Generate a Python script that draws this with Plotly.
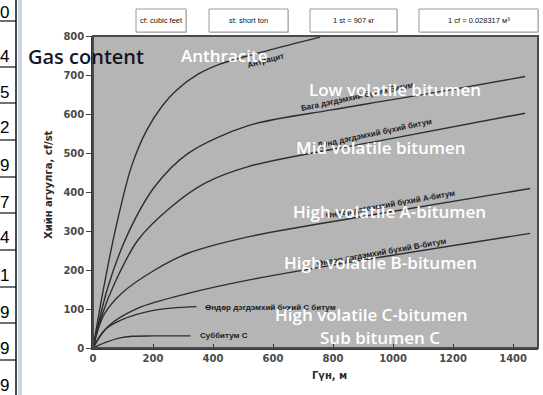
import plotly.graph_objects as go

# ---------------- data ----------------
depth_anthracite = [0, 28, 72, 128, 180, 230, 280, 350, 423, 579, 757]
gas_anthracite = [0, 123, 294, 465, 560, 620, 662, 702, 728, 762, 797]

depth_low = [0, 50, 117, 206, 317, 517, 790, 967, 1200, 1440]
gas_low = [0, 157, 294, 414, 499, 570, 610, 633, 663, 696]

depth_mid = [0, 28, 72, 150, 261, 372, 517, 967, 1440]
gas_mid = [0, 80, 166, 277, 362, 422, 465, 533, 602]

depth_high_a = [0, 20, 39, 95, 206, 317, 517, 967, 1457]
gas_high_a = [0, 55, 89, 140, 200, 243, 285, 346, 409]

depth_high_b = [0, 50, 150, 317, 517, 967, 1457]
gas_high_b = [0, 55, 102, 140, 174, 234, 294]

depth_high_c = [0, 39, 95, 206, 345]
gas_high_c = [0, 46, 72, 97, 106]

depth_sub_c = [0, 40, 90, 130, 200, 325]
gas_sub_c = [0, 14, 26, 30, 31, 31]

x_ticks = [0, 200, 400, 600, 800, 1000, 1200, 1400]
y_ticks = [0, 100, 200, 300, 400, 500, 600, 700, 800]

english_labels = ["Anthracite", "Low volatile bitumen", "Mid volatile bitumen",
                  "High volatile A-bitumen", "High volatile B-bitumen",
                  "High volatile C-bitumen", "Sub bitumen C"]
mongol_labels = ["Антрацит", "Бага дэгдэмхий бүхий битум", "Дунд дэгдэмхий бүхий битум",
                 "Өндөр дэгдэмхий бүхий А-битум", "Өндөр дэгдэмхий бүхий В-битум",
                 "Өндөр дэгдэмхий бүхий С битум", "Суббитум С"]
box_texts = ["cf: cubic feet", "st: short ton", "1 st = 907 кг", "1 cf = 0.028317 м³"]
row_digits = ["0", "4", "5", "2", "9", "7", "4", "1", "9", "9", "9"]

# ---------------- geometry helpers (pixel -> paper) ----------------
W, H = 543, 395
L, R, T, B = 93, 538, 36, 348


def px(X):
    return (X - L) / (R - L)


def py(Y):
    return (B - Y) / (B - T)


fig = go.Figure()
series = [(depth_anthracite, gas_anthracite), (depth_low, gas_low), (depth_mid, gas_mid),
          (depth_high_a, gas_high_a), (depth_high_b, gas_high_b),
          (depth_high_c, gas_high_c), (depth_sub_c, gas_sub_c)]
for (xs, ys), name in zip(series, english_labels):
    fig.add_trace(go.Scatter(x=xs, y=ys, mode="lines", name=name,
                             line=dict(color="#2e2e2e", width=1.4, shape="spline", smoothing=0.9),
                             hoverinfo="x+y"))

shapes = []
annotations = []

# plot frame
shapes.append(dict(type="rect", xref="paper", yref="paper", x0=0, x1=1, y0=0, y1=1,
                   line=dict(color="#4a4a4a", width=2), layer="above"))

# spreadsheet column on the left
shapes.append(dict(type="line", xref="paper", yref="paper", x0=px(16), x1=px(16), y0=py(0), y1=py(395),
                   line=dict(color="#111", width=1.5)))
shapes.append(dict(type="rect", xref="paper", yref="paper", x0=px(18), x1=px(22), y0=py(0), y1=py(395),
                   fillcolor="#c9d6ea", line=dict(width=0)))
row_lines = [21, 67, 103, 140, 177, 213, 250, 287, 323, 360]
for yl in row_lines:
    shapes.append(dict(type="line", xref="paper", yref="paper", x0=px(0), x1=px(16), y0=py(yl), y1=py(yl),
                       line=dict(color="#111", width=1.2)))
digit_centers = [12, 57, 92, 128, 165, 202, 238, 275, 312, 348, 385]
for d, yc in zip(row_digits, digit_centers):
    annotations.append(dict(text=d, xref="paper", yref="paper", x=px(11), y=py(yc),
                            xanchor="right", yanchor="middle", showarrow=False,
                            font=dict(family="Liberation Sans", size=17, color="#000")))

# top info boxes
box_x = [(136, 186), (209, 288), (310, 397), (419, 538)]
for (x0, x1), t in zip(box_x, box_texts):
    shapes.append(dict(type="rect", xref="paper", yref="paper", x0=px(x0 + 1), x1=px(x1 + 1),
                       y0=py(33), y1=py(10), fillcolor="#d0d0d0", line=dict(width=0)))
    shapes.append(dict(type="rect", xref="paper", yref="paper", x0=px(x0), x1=px(x1),
                       y0=py(32), y1=py(9), fillcolor="white", line=dict(color="#9a9a9a", width=1)))
    annotations.append(dict(text=t, xref="paper", yref="paper", x=px((x0 + x1) / 2), y=py(20.5),
                            xanchor="center", yanchor="middle", showarrow=False,
                            font=dict(family="Liberation Sans", size=7.5, color="#111")))

# Gas content title
annotations.append(dict(text="Gas content", xref="paper", yref="paper", x=px(86), y=py(56),
                        xanchor="center", yanchor="middle", showarrow=False,
                        font=dict(family="Open Sans", size=20, color="#151528", weight=600)))

# white English labels (data coordinates)
eng_pos = [(435, 749), (1007, 664), (960, 515), (987, 349), (957, 218), (928, 85), (955, 26)]
# Mongolian labels along the curves
mon_pos = [(577, 736, -15, "center"), (883, 644, -12, "center"), (937, 551, -12, "center"),
           (990, 367, -10, "center"), (960, 246, -10, "center"), (367, 105, 0, "left"),
           (350, 31, 0, "left")]
for t, (x, y, a, anc) in zip(mongol_labels, mon_pos):
    annotations.append(dict(text=t, x=x, y=y, xref="x", yref="y", textangle=a, xanchor=anc,
                            yanchor="middle", showarrow=False,
                            font=dict(family="Liberation Sans Narrow, Liberation Sans", size=8,
                                      color="#1a1a1a", weight="bold")))
for t, (x, y) in zip(english_labels, eng_pos):
    annotations.append(dict(text=t, x=x, y=y, xref="x", yref="y", xanchor="center",
                            yanchor="middle", showarrow=False,
                            font=dict(family="Open Sans", size=17, color="#ffffff", weight=600)))

# axis titles
annotations.append(dict(text="Хийн агуулга, cf/st", xref="paper", yref="paper", x=px(48), y=py(185),
                        textangle=-90, xanchor="center", yanchor="middle", showarrow=False,
                        font=dict(family="DejaVu Sans", size=10, color="#2a2a2a", weight="bold")))
annotations.append(dict(text="Гүн, м", xref="paper", yref="paper", x=px(329), y=py(376),
                        xanchor="center", yanchor="middle", showarrow=False,
                        font=dict(family="DejaVu Sans", size=10, color="#2a2a2a", weight="bold")))

fig.update_layout(
    width=W, height=H, autosize=False,
    margin=dict(l=L, r=W - R, t=T, b=H - B, pad=0),
    paper_bgcolor="white", plot_bgcolor="#b5b5b5",
    showlegend=False,
    shapes=shapes, annotations=annotations,
    xaxis=dict(range=[0, 1483], tickvals=x_ticks, ticks="inside", ticklen=4, tickcolor="#333",
               showgrid=False, zeroline=False, showline=True, linecolor="#333", linewidth=1.5,
               automargin=False,
               tickfont=dict(family="DejaVu Sans", size=10, color="#4a4a4a", weight="bold")),
    yaxis=dict(range=[0, 800], tickvals=y_ticks, ticks="outside", ticklen=5, tickcolor="#444",
               showgrid=False, zeroline=False, showline=True, linecolor="#333", linewidth=1.5,
               automargin=False,
               tickfont=dict(family="DejaVu Sans", size=10, color="#4a4a4a", weight="bold")),
)

fig.write_html("out.html", config={"displayModeBar": False},
               post_script="document.body.style.margin='0px';document.body.style.padding='0px';"
                           "document.body.style.overflow='hidden';"
                           "document.documentElement.style.overflow='hidden';")
